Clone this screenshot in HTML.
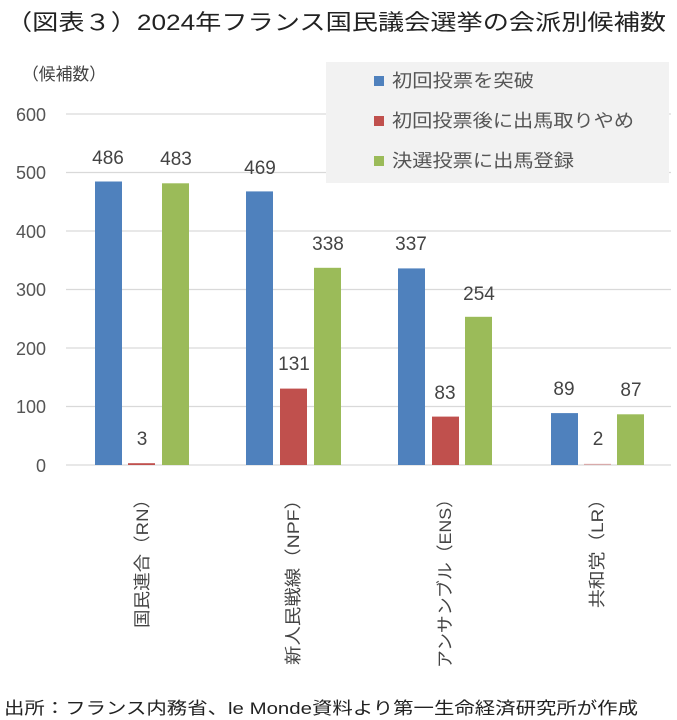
<!DOCTYPE html>
<html><head><meta charset="utf-8"><style>
html,body{margin:0;padding:0;background:#fff}
svg{display:block;font-family:"Liberation Sans","Noto Sans CJK JP",sans-serif}
</style></head><body>
<svg width="677" height="720" viewBox="0 0 677 720" xmlns="http://www.w3.org/2000/svg">
<text x="6" y="30" font-size="22" fill="#222" textLength="660" lengthAdjust="spacingAndGlyphs">（図表３）2024年フランス国民議会選挙の会派別候補数</text>
<text x="22" y="80" font-size="17" fill="#444" textLength="84" lengthAdjust="spacingAndGlyphs">（候補数）</text>
<g stroke="#d9d9d9" stroke-width="1.3">
<line x1="66" x2="671" y1="114" y2="114"/><line x1="66" x2="671" y1="172.5" y2="172.5"/>
<line x1="66" x2="671" y1="231" y2="231"/><line x1="66" x2="671" y1="289.5" y2="289.5"/>
<line x1="66" x2="671" y1="348" y2="348"/><line x1="66" x2="671" y1="406.5" y2="406.5"/>
<line x1="66" x2="671" y1="465" y2="465"/></g>
<g font-size="18" fill="#555" text-anchor="end">
<text x="46" y="121">600</text><text x="46" y="179">500</text><text x="46" y="238">400</text>
<text x="46" y="296">300</text><text x="46" y="355">200</text><text x="46" y="413">100</text><text x="46" y="472">0</text></g>
<rect x="326" y="62" width="343" height="121" fill="#f2f2f2"/>
<rect x="374" y="76" width="10" height="10" fill="#4f81bd"/>
<rect x="374" y="116" width="10" height="10" fill="#c0504d"/>
<rect x="374" y="156" width="10" height="10" fill="#9bbb59"/>
<g font-size="18" fill="#555" lengthAdjust="spacingAndGlyphs">
<text x="392" y="87" textLength="142" lengthAdjust="spacingAndGlyphs">初回投票を突破</text>
<text x="392" y="127" textLength="242" lengthAdjust="spacingAndGlyphs">初回投票後に出馬取りやめ</text>
<text x="392" y="167" textLength="182" lengthAdjust="spacingAndGlyphs">決選投票に出馬登録</text></g>
<g fill="#4f81bd">
<rect x="95" y="181.5" width="27" height="283.5"/><rect x="246" y="191.4" width="27" height="273.6"/>
<rect x="398" y="268.4" width="27" height="196.6"/><rect x="551" y="413.1" width="27" height="51.9"/></g>
<g fill="#c0504d">
<rect x="128" y="463.2" width="27" height="1.8"/><rect x="280" y="388.6" width="27" height="76.4"/>
<rect x="432" y="416.6" width="27" height="48.4"/><rect x="584" y="463.8" width="27" height="1.2" opacity="0.4"/></g>
<g fill="#9bbb59">
<rect x="162" y="183.3" width="27" height="281.7"/><rect x="314" y="267.8" width="27" height="197.2"/>
<rect x="465" y="316.8" width="27" height="148.2"/><rect x="617" y="414.3" width="27" height="50.7"/></g>
<g font-size="19" fill="#444" text-anchor="middle">
<text x="108" y="164">486</text><text x="142" y="445">3</text><text x="176" y="165">483</text>
<text x="260" y="174">469</text><text x="294" y="370">131</text><text x="328" y="250">338</text>
<text x="411" y="250">337</text><text x="445" y="399">83</text><text x="479" y="300">254</text>
<text x="564" y="395">89</text><text x="598" y="445">2</text><text x="631" y="396">87</text></g>
<g font-size="17" fill="#444" text-anchor="end">
<text transform="translate(148,490) rotate(-90)" textLength="138" lengthAdjust="spacingAndGlyphs">国民連合（RN）</text>
<text transform="translate(299,490) rotate(-90)" textLength="175" lengthAdjust="spacingAndGlyphs">新人民戦線（NPF）</text>
<text transform="translate(451,490) rotate(-90)" textLength="178" lengthAdjust="spacingAndGlyphs">アンサンブル（ENS）</text>
<text transform="translate(603,490) rotate(-90)" textLength="118" lengthAdjust="spacingAndGlyphs">共和党（LR）</text></g>
<text x="4" y="714" font-size="17" fill="#222" textLength="634" lengthAdjust="spacingAndGlyphs">出所：フランス内務省、le Monde資料より第一生命経済研究所が作成</text>
</svg>
</body></html>
